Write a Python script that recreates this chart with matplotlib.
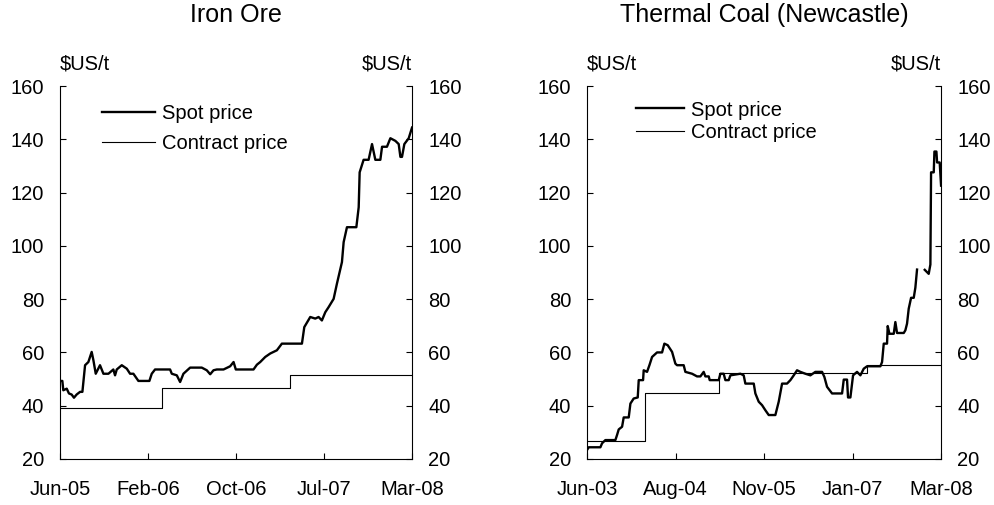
"""
Iron ore and thermal coal prices, spot vs contract
"""

###############################################################################
# Libraries
import numpy as np
import matplotlib
matplotlib.use('Agg')
import matplotlib.pyplot as plt

plt.rcParams['font.family'] = ['Liberation Sans', 'DejaVu Sans']

####################################
# Data (x in months from the first tick)
# Iron ore: Jun-05 = 0 ... Mar-08 = 33
iron_ticks = ['Jun-05', 'Feb-06', 'Oct-06', 'Jul-07', 'Mar-08']
iron_span = 33.0
iron_spot_x = [0, 0.22, 0.31, 0.63, 0.84, 1.09, 1.31, 1.56, 1.88, 2.10, 2.35, 2.66,
               2.97, 3.13, 3.35, 3.75, 4.07, 4.54, 5.00, 5.16, 5.32, 5.79, 6.26,
               6.57, 6.88, 7.35, 8.38, 8.60, 8.91, 10.32, 10.48, 10.95, 11.26,
               11.57, 12.20, 13.29, 13.76, 14.08, 14.39, 14.70, 15.33, 15.95,
               16.27, 16.48, 18.14, 18.46, 18.77, 19.24, 19.71, 20.33, 20.80,
               22.68, 22.90, 23.46, 23.93, 24.24, 24.55, 24.87, 25.18, 25.65,
               25.96, 26.43, 26.59, 26.90, 27.78, 28.00, 28.09, 28.46, 28.93,
               29.25, 29.56, 30.03, 30.19, 30.65, 30.97, 31.44, 31.75, 31.91,
               32.06, 32.28, 32.69, 33.0]
iron_spot_y = [49.3, 49.3, 45.8, 46.4, 44.6, 44.2, 43.0, 44.2, 45.2, 45.2, 55.2, 56.4,
               60.2, 57.1, 52.0, 55.2, 52.0, 52.0, 53.6, 51.4, 53.6, 55.2, 53.9,
               52.0, 52.0, 49.3, 49.3, 52.0, 53.6, 53.6, 52.0, 51.4, 48.9,
               52.0, 54.3, 54.3, 53.3, 51.8, 53.3, 53.6, 53.6, 54.8,
               56.4, 53.6, 53.6, 55.4, 56.4, 58.3, 59.6, 60.8, 63.3,
               63.3, 69.5, 73.3, 72.7, 73.3, 72.0, 75.1, 77.0, 80.1,
               85.8, 93.9, 101.4, 107.0, 107.0, 114.5, 127.6, 132.3, 132.3,
               138.2, 132.3, 132.3, 137.2, 137.2, 140.4, 139.4, 138.2, 133.4,
               133.4, 138.2, 140.4, 144.4]
iron_contract_x = [0, 9.54, 9.54, 21.6, 21.6, 33.0]
iron_contract_y = [39.3, 39.3, 46.7, 46.7, 51.4, 51.4]

# Thermal coal: Jun-03 = 0 ... Mar-08 = 57
coal_ticks = ['Jun-03', 'Aug-04', 'Nov-05', 'Jan-07', 'Mar-08']
coal_span = 57.0
coal_spot_x = [0, 0.27, 2.15, 2.42, 2.95, 4.56, 4.83, 5.10, 5.64, 5.90, 6.71, 6.98,
               7.51, 8.16, 8.32, 9.02, 9.12, 9.66, 10.04, 10.47, 11.27, 12.08,
               12.45, 12.99, 13.69, 14.22, 14.49, 15.56, 15.83, 16.91, 17.71,
               18.25, 18.78, 19.05, 19.59, 19.75, 21.20, 21.47, 22.00, 22.27,
               22.81, 23.08, 24.69, 25.22, 25.49, 26.84, 27.10, 27.64, 28.18,
               28.71, 29.25, 30.32, 30.86, 31.40, 32.20, 32.74, 33.28, 33.81,
               34.35, 35.15, 35.96, 36.76, 37.84, 38.21, 38.64, 39.45, 41.06,
               41.33, 41.86, 42.02, 42.40, 42.83, 43.47, 44.01, 44.55, 45.08,
               47.23, 47.50, 47.77, 48.30, 48.41, 48.68, 49.38, 49.64, 49.91,
               50.99, 51.25, 51.52, 51.79, 52.17, 52.60, 52.86, 53.13, 53.6,
               54.37, 55.01, 55.28, 55.39, 55.82, 55.93, 56.25, 56.36, 56.78, 57.0]
coal_spot_y = [23.4, 24.4, 24.4, 25.9, 27.1, 27.1, 29.0, 31.1, 32.1, 35.6, 35.6, 40.8,
               42.7, 43.1, 49.6, 49.6, 53.3, 52.7, 55.2, 58.3, 60.0, 60.0,
               63.3, 62.7, 60.2, 55.8, 55.2, 55.2, 52.7, 52.0, 51.0,
               51.0, 52.7, 51.0, 51.0, 49.6, 49.6, 52.0, 52.0, 49.6,
               49.6, 51.4, 52.0, 51.4, 48.3, 48.3, 44.6, 41.5, 40.2,
               38.3, 36.5, 36.5, 41.5, 48.3, 48.3, 49.6, 51.4, 53.3,
               52.7, 52.0, 51.4, 52.7, 52.7, 50.8, 47.1, 44.6, 44.6,
               49.8, 49.8, 43.1, 43.1, 51.4, 52.7, 51.4, 53.9, 54.8,
               54.8, 56.4, 63.3, 63.3, 69.9, 67.0, 67.0, 71.4, 67.3,
               67.3, 68.3, 70.8, 76.4, 80.5, 80.5, 84.3, 91.1, np.nan,
               91.0, 89.5, 93.0, 127.6, 127.6, 135.4, 135.4, 131.3, 131.3, 122.6]
coal_contract_x = [0, 9.3, 9.3, 21.2, 21.2, 45.1, 45.1, 57.0]
coal_contract_y = [26.7, 26.7, 44.6, 44.6, 52.1, 52.1, 55.2, 55.2]

####################################
# Plot structure
def Panel(ax, title, sx, sy, cx, cy, span, ticks):
    ax.plot(sx, sy, color='black', lw=1.7, label='Spot price')
    ax.plot(cx, cy, color='black', lw=0.8, label='Contract price')
    ax.set_xlim(0, span)
    ax.set_ylim(20, 160)
    ax.set_yticks(np.arange(20, 161, 20))
    ax.set_xticks(np.linspace(0, span, len(ticks)))
    ax.set_xticklabels(ticks)
    ax.spines['top'].set_visible(False)
    ax.tick_params(axis='y', direction='in', length=4.5, width=0.8, left=True, right=True,
                   labelleft=True, labelright=True, labelsize=14.5, pad=11.5)
    ax.tick_params(axis='x', direction='in', length=4.5, width=0.8, labelsize=14.5, pad=15)
    ax.set_title(title, fontsize=18, pad=46)
    ax.annotate('$US/t', xy=(0, 1), xycoords='axes fraction', xytext=(0, 12),
                textcoords='offset points', ha='left', va='baseline', fontsize=14.5)
    ax.annotate('$US/t', xy=(1, 1), xycoords='axes fraction', xytext=(0, 12),
                textcoords='offset points', ha='right', va='baseline', fontsize=14.5)
    return ax

fig = plt.figure(figsize=(9.95, 5.05), dpi=100)
ax1 = fig.add_axes([0.0603, 0.0911, 0.3538, 0.7386])
ax2 = fig.add_axes([0.59, 0.0911, 0.3558, 0.7386])

Panel(ax1, 'Iron Ore', iron_spot_x, iron_spot_y, iron_contract_x, iron_contract_y,
      iron_span, iron_ticks)
Panel(ax2, 'Thermal Coal (Newcastle)', coal_spot_x, coal_spot_y, coal_contract_x,
      coal_contract_y, coal_span, coal_ticks)

ax1.legend(loc='upper left', bbox_to_anchor=(0.091, 0.978), frameon=False, fontsize=14.5,
           handlelength=2.65, handletextpad=0.3, labelspacing=0.55, borderpad=0)
ax2.legend(loc='upper left', bbox_to_anchor=(0.11, 0.988), frameon=False, fontsize=14.5,
           handlelength=2.4, handletextpad=0.35, labelspacing=0.15, borderpad=0)

fig.savefig('out.png', dpi=100)
plt.close()
